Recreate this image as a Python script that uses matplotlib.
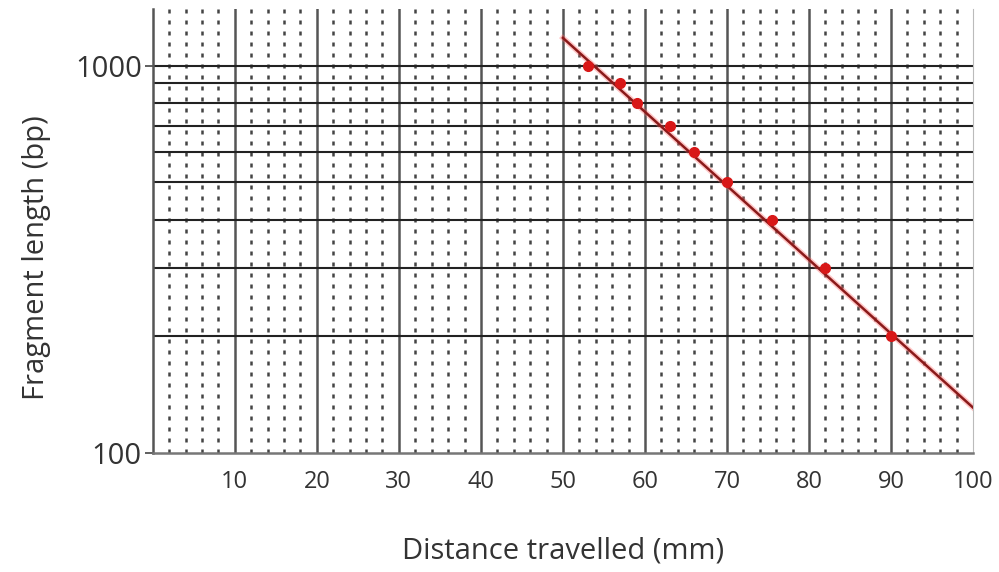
import numpy as np
from matplotlib import pyplot as plt
from matplotlib.ticker import FixedLocator, NullFormatter

plt.rcParams['font.family'] = ['Open Sans', 'DejaVu Sans']

# measured points
distance = [53, 57, 59, 63, 66, 70, 75.5, 82, 90]
length = [1000, 900, 800, 700, 600, 500, 400, 300, 200]

# best fit line end points
fit_x = [50, 100]
fit_y = [1180, 131]

x_ticks = [10, 20, 30, 40, 50, 60, 70, 80, 90, 100]
y_grid = [200, 300, 400, 500, 600, 700, 800, 900, 1000]


def main():
    fig = plt.figure(figsize=(9.99, 5.72), dpi=100)
    ax = fig.add_axes([0.153, 0.208, 0.821, 0.776])
    ax.set_yscale('log')
    ax.set_xlim(0, 100)
    ax.set_ylim(100, 1400)

    # dotted minor verticals every 2 mm
    for xv in np.arange(2, 100, 2):
        if xv % 10:
            ax.axvline(xv, color='#444444', lw=1.8, ls=(0, (1.6, 2.8)), zorder=1)
    for xv in x_ticks[:-1]:
        ax.axvline(xv, color='#555555', lw=1.8, zorder=2)
    for yv in y_grid:
        ax.axhline(yv, color='#222222', lw=1.5, zorder=2)

    ax.plot(fit_x, fit_y, color='#ff6060', lw=4, alpha=0.35, zorder=3)
    ax.plot(fit_x, fit_y, color='#8b1a1a', lw=1.8, zorder=4)
    ax.plot(distance, length, 'o', color='#d81818', ms=7, zorder=5)

    ax.xaxis.set_major_locator(FixedLocator(x_ticks))
    ax.set_xticklabels([str(t) for t in x_ticks], fontsize=17, color='#333333')
    ax.yaxis.set_major_locator(FixedLocator([100, 1000]))
    ax.yaxis.set_minor_locator(FixedLocator([]))
    ax.yaxis.set_minor_formatter(NullFormatter())
    ax.set_yticklabels(['100', '1000'], fontsize=21, color='#333333')
    ax.tick_params(axis='x', length=0, pad=12)
    ax.tick_params(axis='y', length=6, width=1.2, color='#444444', pad=2)

    ax.spines['top'].set_visible(False)
    ax.spines['right'].set_color('#bbbbbb')
    ax.spines['left'].set_color('#555555')
    ax.spines['left'].set_linewidth(1.8)
    ax.spines['bottom'].set_color('#777777')
    ax.spines['bottom'].set_linewidth(1.8)

    ax.set_xlabel('Distance travelled (mm)', fontsize=21, color='#333333', labelpad=31)
    ax.set_ylabel('Fragment length (bp)', fontsize=21, color='#333333')
    ax.yaxis.set_label_coords(-0.124, 0.44)

    fig.savefig('out.png', dpi=100)


if __name__ == "__main__":
    main()
